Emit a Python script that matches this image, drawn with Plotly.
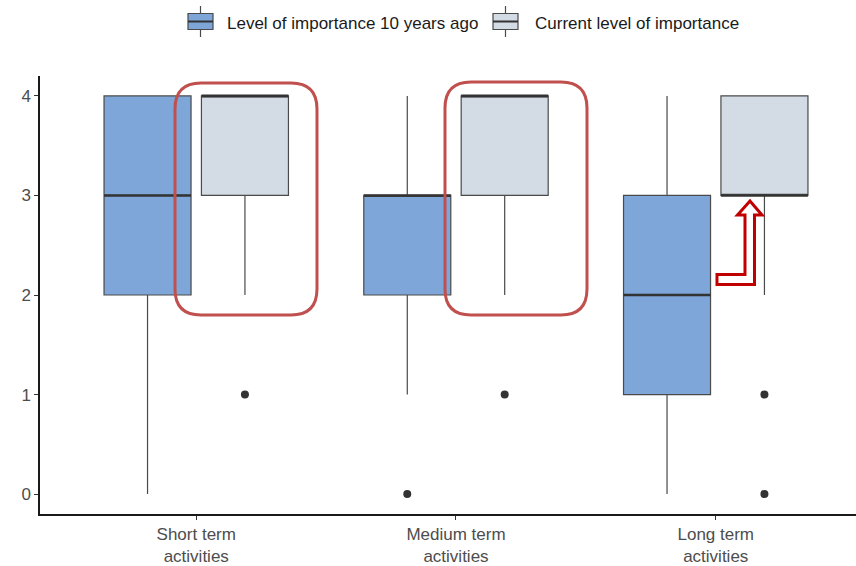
import plotly.graph_objects as go

# ---------------- data ----------------
categories = ["Short term<br>activities", "Medium term<br>activities", "Long term<br>activities"]
series_names = ["Level of importance 10 years ago", "Current level of importance"]

q1_past = [2, 2, 1]
median_past = [3, 3, 2]
q3_past = [4, 3, 3]
low_past = [0, 1, 0]
high_past = [4, 4, 4]
outliers_past = [[], [0], []]

q1_now = [3, 3, 3]
median_now = [4, 4, 3]
q3_now = [4, 4, 4]
low_now = [2, 2, 2]
high_now = [4, 4, 4]
outliers_now = [[1], [1], [1, 0]]

y_ticks = [0, 1, 2, 3, 4]

# ---------------- style ----------------
FONT = "Liberation Sans, Arial, sans-serif"
fill_colors = ["#7EA6D8", "#D3DBE5"]
DODGE = 0.1875
BOX_W = 0.335
W, H = 856, 566
ML, MR, MT, MB = 40, 0, 76, 52

stats = [
    (q1_past, median_past, q3_past, low_past, high_past, outliers_past),
    (q1_now, median_now, q3_now, low_now, high_now, outliers_now),
]

fig = go.Figure()
for s, (q1, med, q3, lo, hi, outs) in enumerate(stats):
    offset = -DODGE if s == 0 else DODGE
    xs = [i + offset for i in range(len(categories))]
    fig.add_trace(go.Box(
        x=xs, q1=q1, median=med, q3=q3, lowerfence=lo, upperfence=hi,
        width=BOX_W, whiskerwidth=0, boxpoints=False,
        fillcolor=fill_colors[s], line=dict(color="#4A4A4A", width=1.2),
        name=series_names[s], showlegend=False,
    ))
    # thick median lines
    mx, my = [], []
    for x, m in zip(xs, med):
        mx += [x - BOX_W / 2, x + BOX_W / 2, None]
        my += [m, m, None]
    fig.add_trace(go.Scatter(x=mx, y=my, mode="lines",
                             line=dict(color="#333333", width=2.6),
                             showlegend=False, hoverinfo="skip"))
    # outliers
    ox, oy = [], []
    for x, vals in zip(xs, outs):
        for v in vals:
            ox.append(x)
            oy.append(v)
    fig.add_trace(go.Scatter(x=ox, y=oy, mode="markers",
                             marker=dict(color="#333333", size=8),
                             showlegend=False, hoverinfo="skip"))

# ---------------- annotation shapes (pixel -> data) ----------------
X0_PX, X_UNIT = 196.25, 259.75
Y0_PX, Y_UNIT = 494.0, 99.5


def dx(px):
    return (px - X0_PX) / X_UNIT


def dy(py):
    return (Y0_PX - py) / Y_UNIT


def px_paper_x(px):
    return (px - ML) / (W - ML - MR)


def px_paper_y(py):
    return (H - MB - py) / (H - MT - MB)


def round_rect(l, r, t, b, rad):
    rx, ry = rad / X_UNIT, rad / Y_UNIT
    L, R, T, B = dx(l), dx(r), dy(t), dy(b)
    return (f"M {L+rx},{T} L {R-rx},{T} Q {R},{T} {R},{T-ry} "
            f"L {R},{B+ry} Q {R},{B} {R-rx},{B} "
            f"L {L+rx},{B} Q {L},{B} {L},{B+ry} "
            f"L {L},{T-ry} Q {L},{T} {L+rx},{T} Z")


for (l, r, t, b) in [(175, 317, 83, 315), (445, 587, 82, 315)]:
    fig.add_shape(type="path", path=round_rect(l, r, t, b, 26), xref="x", yref="y",
                  line=dict(color="#C0504D", width=3), fillcolor="rgba(0,0,0,0)")

arrow_px = [(717, 274.5), (745, 274.5), (745, 215), (737.5, 215), (750, 201),
            (762, 215), (754.5, 215), (754.5, 284.5), (717, 284.5)]
path = "M " + " L ".join(f"{dx(x)},{dy(y)}" for x, y in arrow_px) + " Z"
fig.add_shape(type="path", path=path, xref="x", yref="y",
              line=dict(color="#C00000", width=3), fillcolor="white")

# ---------------- custom legend (ggplot-style boxplot keys) ----------------
legend_items = [(188, 225), (493, 533)]  # (key left px, text left px)
for s, (kx, tx) in enumerate(legend_items):
    kw = 25
    cx = kx + kw / 2
    # whisker
    fig.add_shape(type="line", xref="paper", yref="paper",
                  x0=px_paper_x(cx), x1=px_paper_x(cx), y0=px_paper_y(6), y1=px_paper_y(37),
                  line=dict(color="#4A4A4A", width=1.2))
    # box
    fig.add_shape(type="rect", xref="paper", yref="paper",
                  x0=px_paper_x(kx), x1=px_paper_x(kx + kw), y0=px_paper_y(13.5), y1=px_paper_y(29.5),
                  fillcolor=fill_colors[s], line=dict(color="#4A4A4A", width=1.2))
    # median
    fig.add_shape(type="line", xref="paper", yref="paper",
                  x0=px_paper_x(kx), x1=px_paper_x(kx + kw), y0=px_paper_y(21.5), y1=px_paper_y(21.5),
                  line=dict(color="#333333", width=2))
    fig.add_annotation(text=series_names[s], xref="paper", yref="paper",
                       x=px_paper_x(tx), y=px_paper_y(23), xanchor="left", yanchor="middle",
                       showarrow=False, font=dict(size=17, color="#1A1A1A"))

# ---------------- layout ----------------
fig.update_layout(
    width=W, height=H,
    margin=dict(l=ML, r=MR, t=MT, b=MB),
    paper_bgcolor="white", plot_bgcolor="white",
    font=dict(family=FONT, size=17, color="#4D4D4D"),
    showlegend=False,
    xaxis=dict(range=[-0.6015, 2.54], tickvals=list(range(len(categories))),
               ticktext=categories, showgrid=False, zeroline=False,
               showline=True, linecolor="#1A1A1A", linewidth=1.5,
               ticks="outside", ticklen=4, tickcolor="#333333",
               tickfont=dict(size=17, color="#4D4D4D")),
    yaxis=dict(range=[-0.2, 4.2], tickvals=y_ticks, showgrid=False, zeroline=False,
               showline=True, linecolor="#1A1A1A", linewidth=1.5,
               ticks="outside", ticklen=4, tickcolor="#333333",
               tickfont=dict(size=17, color="#4D4D4D")),
)

fig.write_html("out.html")
